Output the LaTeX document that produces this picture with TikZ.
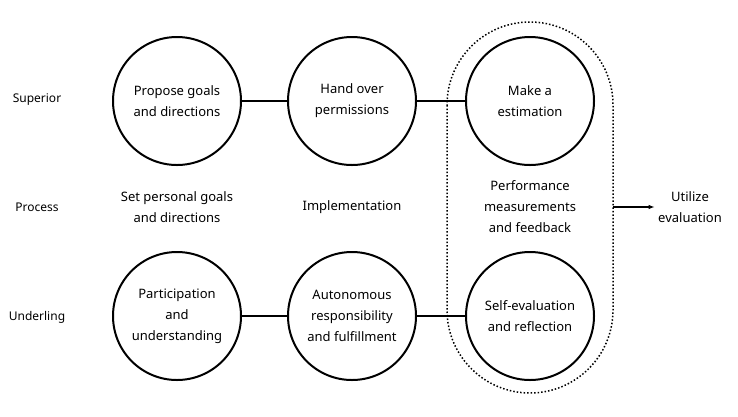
\documentclass[tikz,border=0pt]{standalone}
\usepackage{fontspec}
\setmainfont{Noto Sans}
\usetikzlibrary{positioning, arrows.meta}
\tikzset{
  stage/.style={draw, circle, line width=2pt, minimum size=128pt, align=center, inner sep=0pt},
  txt/.style={align=center},
  role/.style={font=\bfseries\fontsize{12}{15}\selectfont}
}
\begin{document}
\begin{tikzpicture}[x=1pt, y=-1pt, every node/.style={font=\fontsize{13}{21}\selectfont}]
  \useasboundingbox (0,0) rectangle (738,416);
  % Roles
  \node[role] (sup) at (37,100) {Superior};
  \node[role] (pro) at (37,207) {Process};
  \node[role] (und) at (37,317) {Underling};
  % Superior row
  \node[stage] (s1) at (177,101) {Propose goals\\and directions};
  \node[stage] (s2) at (352,101) {Hand over\\permissions};
  \node[stage] (s3) at (530,101) {Make a\\estimation};
  % Underling row
  \node[stage] (u1) at (177,316) {Participation\\and\\understanding};
  \node[stage] (u2) at (352,316) {Autonomous\\responsibility\\and fulfillment};
  \node[stage] (u3) at (530,316) {Self-evaluation\\and reflection};
  % Process row
  \node[txt] (p1) at (177,207) {Set personal goals\\and directions};
  \node[txt] (p2) at (352,207) {Implementation};
  \node[txt] (p3) at (530,207) {Performance\\measurements\\and feedback};
  % Dotted frame
  \draw[line width=1.5pt, dotted, rounded corners=83pt] (447,22) rectangle (613,393);
  \coordinate (fr) at (613,207);
  \node[txt] (use) at (690,207) {Utilize\\evaluation};
  % Lines
  \draw[line width=1.5pt] (s1) -- (s2);
  \draw[line width=1.5pt] (s2) -- (s3);
  \draw[line width=1.5pt] (u1) -- (u2);
  \draw[line width=1.5pt] (u2) -- (u3);
  \draw[line width=1.5pt, -{Latex[length=6pt]}] (fr) -- (use.west);
\end{tikzpicture}
\end{document}
